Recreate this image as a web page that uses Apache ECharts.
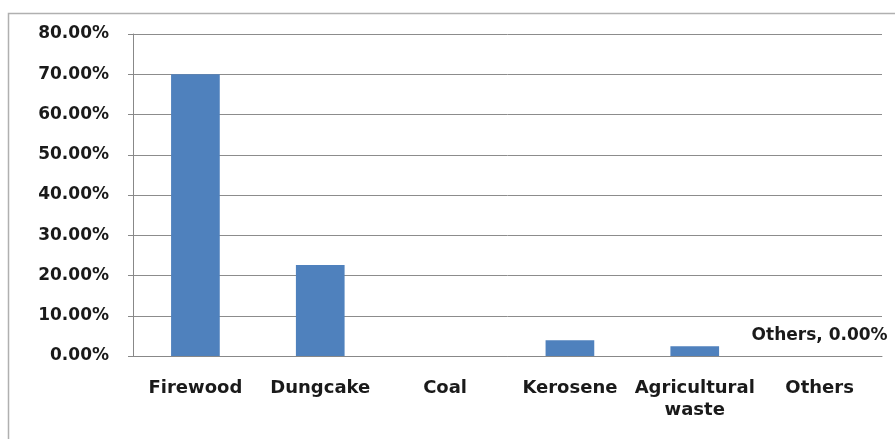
<!DOCTYPE html>
<html>
<head>
<meta charset="utf-8">
<script src="https://cdn.jsdelivr.net/npm/echarts@6/dist/echarts.min.js"></script>
<style>html,body{margin:0;padding:0;background:#fff;}#c{width:895px;height:439px;}</style>
</head>
<body>
<div id="c"></div>
<script>
const categories = ['Firewood', 'Dungcake', 'Coal', 'Kerosene', 'Agricultural\nwaste', 'Others'];
const values = [0.70, 0.226, 0, 0.039, 0.024, 0];
const labelledCategory = 'Others';

const chart = echarts.init(document.getElementById('c'), null, {renderer: 'canvas'});
const font = 'DejaVu Sans';
chart.setOption({
  animation: false,
  backgroundColor: '#ffffff',
  graphic: [{
    type: 'rect', shape: {x: 8.5, y: 13.5, width: 900, height: 440},
    style: {fill: 'none', stroke: '#b0b0b0', lineWidth: 1.5}, silent: true, z: -1
  }],
  grid: {left: 133, right: 13, top: 34, bottom: 83, containLabel: false},
  xAxis: {
    type: 'category',
    data: categories,
    axisTick: {show: false},
    axisLine: {lineStyle: {color: '#888888', width: 1}},
    axisLabel: {
      interval: 0, margin: 21, color: '#1a1a1a',
      fontFamily: font, fontWeight: 'bold', fontSize: 18, lineHeight: 22
    }
  },
  yAxis: {
    type: 'value', min: 0, max: 0.8, interval: 0.1,
    axisLine: {show: true, lineStyle: {color: '#888888', width: 1}},
    axisTick: {show: true, length: 5, lineStyle: {color: '#888888'}},
    splitLine: {lineStyle: {color: '#8c8c8c', width: 1}},
    axisLabel: {
      margin: 24, color: '#1a1a1a', fontFamily: font, fontWeight: 'bold', fontSize: 17,
      formatter: v => (v * 100).toFixed(2) + '%'
    }
  },
  series: [{
    type: 'bar',
    data: values,
    barWidth: '39%',
    itemStyle: {color: '#4F81BD'},
    label: {
      show: true, position: 'top', distance: 12,
      color: '#1a1a1a', fontFamily: font, fontWeight: 'bold', fontSize: 17,
      formatter: p => p.name === labelledCategory ? p.name + ', ' + (p.value * 100).toFixed(2) + '%' : ''
    }
  }]
});
</script>
</body>
</html>
